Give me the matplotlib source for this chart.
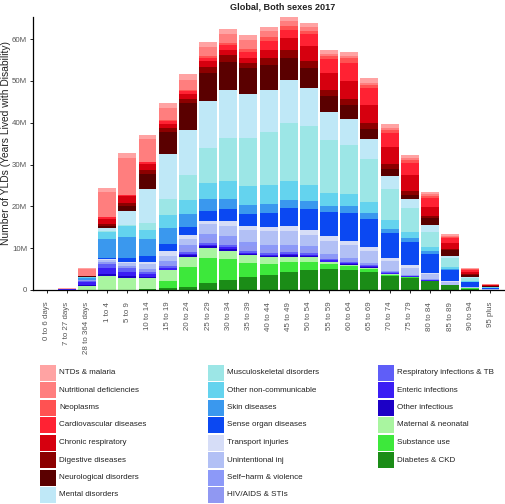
import numpy as np
import matplotlib
matplotlib.use("Agg")
import matplotlib.pyplot as plt
from matplotlib.patches import Rectangle

plt.rcParams['font.family'] = ['Liberation Sans', 'DejaVu Sans']

ages = ["0 to 6 days", "7 to 27 days", "28 to 364 days", "1 to 4", "5 to 9",
        "10 to 14", "15 to 19", "20 to 24", "25 to 29", "30 to 34", "35 to 39",
        "40 to 44", "45 to 49", "50 to 54", "55 to 59", "60 to 64", "65 to 69",
        "70 to 74", "75 to 79", "80 to 84", "85 to 89", "90 to 94", "95 plus"]

# YLDs in millions, per cause (bottom of stack first)
diabetes = [0, 0, 0, 0, 0.1, 0.2, 0.4, 0.8, 1.7, 2.3, 3.0, 3.6, 4.4, 4.8, 5.0, 4.8, 4.4, 3.3, 2.8, 2.1, 1.1, 0.35, 0.08]
substance = [0, 0, 0, 0, 0, 0.1, 1.7, 4.8, 6.0, 5.0, 3.4, 2.6, 2.2, 2.0, 1.2, 0.9, 0.6, 0.4, 0.2, 0.1, 0.03, 0.01, 0]
maternal = [0.03, 0.1, 1.0, 3.4, 2.8, 2.6, 2.6, 2.4, 2.4, 2.1, 1.9, 1.6, 1.4, 1.0, 0.4, 0.3, 0.2, 0.1, 0.05, 0, 0, 0, 0]
other_inf = [0, 0, 0.2, 0.4, 0.5, 0.3, 0.2, 0.4, 0.4, 0.4, 0.3, 0.3, 0.3, 0.3, 0.2, 0.2, 0.2, 0.1, 0.1, 0.05, 0.03, 0.01, 0]
enteric = [0.01, 0.05, 0.6, 1.5, 1.0, 0.6, 0.4, 0.3, 0.3, 0.4, 0.3, 0.3, 0.3, 0.3, 0.3, 0.3, 0.3, 0.2, 0.1, 0.1, 0.05, 0.02, 0]
resp_tb = [0, 0, 0.4, 1.0, 0.9, 0.6, 0.5, 0.5, 0.5, 0.5, 0.4, 0.4, 0.4, 0.5, 0.4, 0.3, 0.3, 0.2, 0.1, 0.1, 0.05, 0.02, 0]
hiv = [0, 0, 0.1, 0.2, 0.3, 0.3, 0.5, 0.8, 1.2, 1.3, 1.3, 1.0, 0.8, 0.8, 0.5, 0.3, 0.2, 0.1, 0.05, 0.02, 0.01, 0, 0]
selfharm = [0, 0, 0, 0.1, 0.2, 0.4, 0.6, 0.7, 1.0, 0.9, 1.0, 1.0, 1.0, 0.9, 0.7, 0.5, 0.3, 0.2, 0.1, 0.05, 0.02, 0.01, 0]
unintentional = [0, 0, 0.1, 0.5, 0.6, 1.0, 1.3, 1.6, 2.2, 2.4, 2.8, 3.2, 3.2, 2.6, 3.0, 3.2, 2.9, 2.4, 1.8, 1.2, 0.7, 0.35, 0.08]
transport = [0, 0, 0, 0.2, 0.2, 0.6, 1.1, 0.8, 0.8, 1.2, 0.8, 1.0, 1.2, 1.1, 1.1, 1.0, 0.8, 0.6, 0.6, 0.4, 0.2, 0.05, 0.01]
sense = [0, 0, 0.05, 0.4, 1.1, 1.4, 1.6, 2.0, 2.4, 2.8, 3.0, 3.5, 4.4, 5.0, 5.8, 6.5, 6.8, 6.1, 5.6, 4.4, 2.5, 1.1, 0.35]
skin = [0, 0, 0.4, 4.4, 5.0, 4.0, 4.0, 3.0, 2.8, 2.4, 2.2, 2.1, 2.0, 2.0, 1.6, 1.8, 1.4, 1.0, 1.0, 0.8, 0.3, 0.1, 0.03]
other_ncd = [0, 0, 0.3, 1.8, 2.5, 2.2, 3.0, 3.5, 4.0, 4.4, 4.4, 4.5, 4.4, 3.8, 3.0, 2.9, 2.7, 2.0, 1.4, 1.0, 0.6, 0.15, 0.05]
musculo = [0, 0, 0, 0.1, 0.3, 1.8, 3.8, 5.8, 8.2, 10.3, 11.5, 12.6, 14.0, 14.1, 12.6, 11.6, 10.2, 7.4, 5.6, 3.6, 2.0, 0.6, 0.12]
mental = [0, 0, 0.05, 0.8, 3.3, 8.1, 10.9, 10.8, 11.4, 11.5, 10.7, 10.2, 10.2, 9.0, 6.8, 6.4, 4.8, 3.2, 2.2, 1.6, 0.6, 0.3, 0.07]
neuro = [0, 0, 0.05, 0.6, 1.3, 3.6, 5.3, 6.5, 6.6, 6.6, 6.1, 5.8, 5.3, 4.8, 3.8, 3.2, 2.4, 1.6, 1.1, 1.6, 1.3, 0.55, 0.15]
digestive = [0, 0, 0, 0.5, 0.8, 1.0, 0.9, 0.9, 1.4, 1.6, 1.3, 1.8, 1.8, 1.8, 1.4, 1.6, 1.4, 1.2, 0.9, 0.6, 0.4, 0.2, 0.05]
chronic_resp = [0, 0, 0, 1.2, 1.5, 1.4, 1.0, 1.2, 1.4, 1.4, 1.0, 2.0, 3.0, 3.6, 4.0, 4.3, 4.3, 4.0, 3.7, 2.2, 1.4, 0.6, 0.15]
cardio = [0, 0, 0.05, 0.3, 0.3, 0.4, 0.6, 0.8, 0.8, 1.2, 1.6, 2.0, 2.0, 2.8, 3.4, 4.3, 4.0, 3.4, 3.0, 2.2, 1.1, 0.45, 0.12]
neoplasms = [0, 0, 0, 0.1, 0.1, 0.1, 0.2, 0.3, 0.4, 0.5, 0.7, 1.0, 0.9, 0.8, 0.8, 1.0, 0.9, 0.7, 0.6, 0.4, 0.2, 0.1, 0.02]
nutritional = [0, 0.2, 1.8, 6.0, 8.7, 5.5, 3.0, 2.3, 2.2, 2.0, 2.1, 1.4, 1.1, 0.8, 0.5, 0.5, 0.5, 0.5, 0.5, 0.4, 0.3, 0.15, 0.05]
ntds = [0, 0.05, 0.2, 0.8, 1.3, 0.9, 1.2, 1.4, 1.3, 1.2, 1.2, 1.0, 1.0, 1.0, 1.0, 1.0, 1.0, 0.9, 0.8, 0.6, 0.4, 0.15, 0.05]

# legend order (top of stack first)
causes = [
    ("NTDs & malaria", ntds, "#ffa3a3"),
    ("Nutritional deficiencies", nutritional, "#ff7e7e"),
    ("Neoplasms", neoplasms, "#ff5252"),
    ("Cardiovascular diseases", cardio, "#ff2233"),
    ("Chronic respiratory", chronic_resp, "#d6000f"),
    ("Digestive diseases", digestive, "#8c0000"),
    ("Neurological disorders", neuro, "#5a0000"),
    ("Mental disorders", mental, "#bfe8f7"),
    ("Musculoskeletal disorders", musculo, "#9ce6e6"),
    ("Other non-communicable", other_ncd, "#64d3ee"),
    ("Skin diseases", skin, "#3a98ee"),
    ("Sense organ diseases", sense, "#0b48f2"),
    ("Transport injuries", transport, "#d6ddf7"),
    ("Unintentional inj", unintentional, "#b2c0f5"),
    ("Self\u2212harm & violence", selfharm, "#8c99f8"),
    ("HIV/AIDS & STIs", hiv, "#9098f2"),
    ("Respiratory infections & TB", resp_tb, "#5f5ef8"),
    ("Enteric infections", enteric, "#3b1ef4"),
    ("Other infectious", other_inf, "#1c00c6"),
    ("Maternal & neonatal", maternal, "#a9f5a0"),
    ("Substance use", substance, "#3de83b"),
    ("Diabetes & CKD", diabetes, "#1b8c17"),
]

fig = plt.figure(figsize=(5.05, 5.04), dpi=100)
W, H = 505, 504
ax = fig.add_axes([33.3 / W, 1 - 290 / H, (504 - 33.3) / W, (290 - 17) / H])

x = np.arange(len(ages))
bottom = np.zeros(len(ages))
for name, vals, col in reversed(causes):
    v = np.array(vals) * 1e6
    ax.bar(x, v, 0.89, bottom=bottom, color=col, linewidth=0)
    bottom += v

ax.set_xlim(-0.66, 22.67)
ax.set_ylim(0, 65.3e6)
ax.set_yticks(np.arange(0, 61e6, 10e6))
ax.set_yticklabels(["0", "10M", "20M", "30M", "40M", "50M", "60M"])
ax.set_xticks(x)
ax.set_xticklabels(ages, rotation=90)
ax.tick_params(axis='both', labelsize=5.7, labelcolor='#555555', length=2.5, width=0.6, pad=2)
ax.tick_params(axis='x', pad=6)
for s in ['top', 'right']:
    ax.spines[s].set_visible(False)
for s in ['left', 'bottom']:
    ax.spines[s].set_linewidth(0.9)

fig.text(283 / W, 1 - 7 / H, "Global, Both sexes 2017", ha='center', va='center',
         fontsize=6.6, fontweight='bold', color='#222222')
fig.text(6.5 / W, 1 - 143 / H, "Number of YLDs (Years Lived with Disability)", rotation=90,
         ha='center', va='center', fontsize=7.4, color='#222222')

# legend, three columns
col_x = [40, 208, 378]
col_rows = [8, 8, 6]
k = 0
for c, n in enumerate(col_rows):
    for r in range(n):
        name, vals, col = causes[k]
        k += 1
        yc = 372.5 + 17.5 * r
        fig.add_artist(Rectangle((col_x[c] / W, 1 - (yc + 8) / H), 16 / W, 16 / H,
                                 transform=fig.transFigure, facecolor=col, edgecolor='none'))
        fig.text((col_x[c] + 19) / W, 1 - yc / H, name, ha='left', va='center',
                 fontsize=5.8, color='#222222')

fig.savefig("out.png", dpi=100)
